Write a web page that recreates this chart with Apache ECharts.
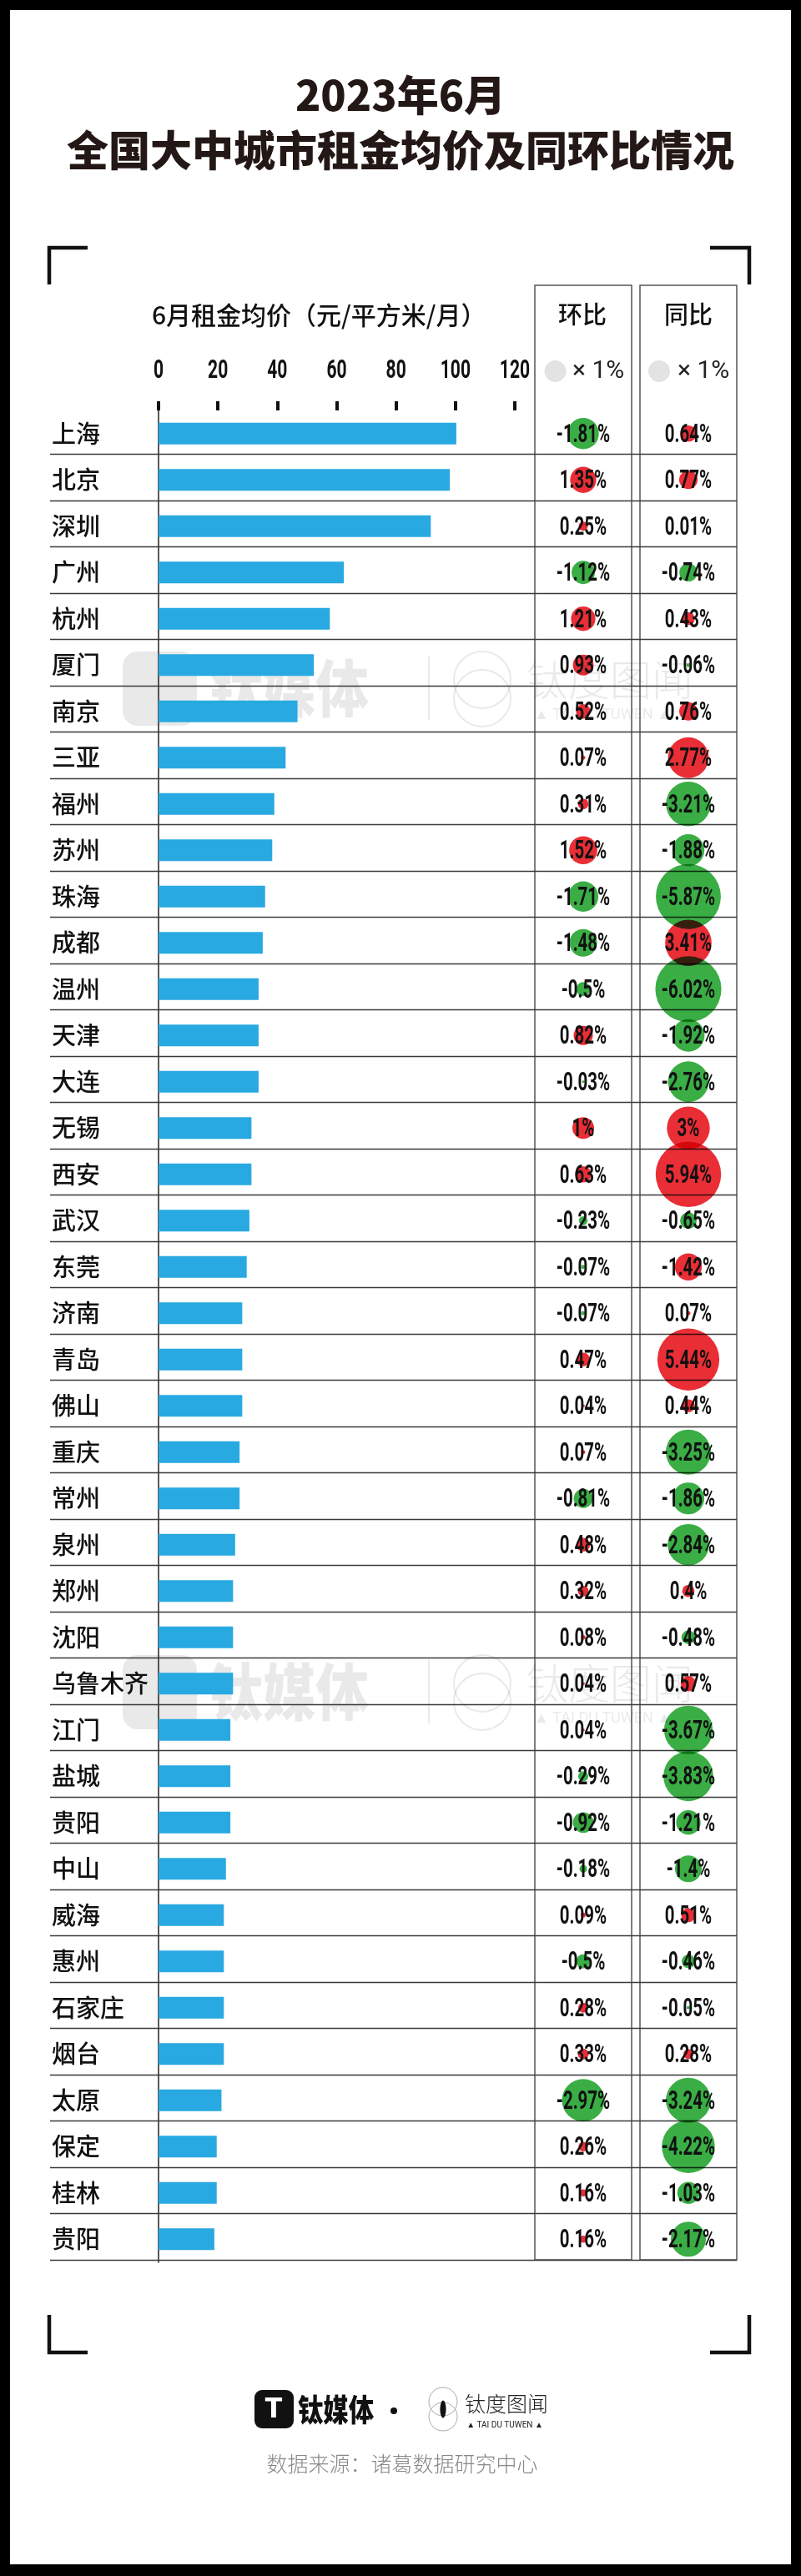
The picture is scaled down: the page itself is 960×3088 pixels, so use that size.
<!DOCTYPE html>
<html><head><meta charset="utf-8">
<script src="https://cdn.jsdelivr.net/npm/echarts@6/dist/echarts.min.js"></script>
<style>html,body{margin:0;padding:0;background:#000;}#c{width:960px;height:3088px;}</style>
</head><body><div id="c"></div>
<script>
const cities = ['上海','北京','深圳','广州','杭州','厦门','南京','三亚','福州','苏州','珠海','成都','温州','天津','大连','无锡','西安','武汉','东莞','济南','青岛','佛山','重庆','常州','泉州','郑州','沈阳','乌鲁木齐','江门','盐城','贵阳','中山','威海','惠州','石家庄','烟台','太原','保定','桂林','贵阳'];
const rent = [100.3,98.1,91.7,62.4,57.7,52.3,46.8,42.8,39.0,38.3,35.9,35.1,33.7,33.7,33.7,31.3,31.3,30.6,29.7,28.2,28.2,28.2,27.3,27.3,25.8,25.1,25.1,25.1,24.2,24.2,24.2,22.7,22.0,22.0,22.0,22.0,21.2,19.6,19.6,18.8];
const mom = [-1.81,1.35,0.25,-1.12,1.21,0.93,0.52,0.07,0.31,1.52,-1.71,-1.48,-0.5,0.82,-0.03,1,0.63,-0.23,-0.07,-0.07,0.47,0.04,0.07,-0.81,0.48,0.32,0.08,0.04,0.04,-0.29,-0.92,-0.18,0.09,-0.5,0.28,0.33,-2.97,0.26,0.16,0.16];
const yoy = [0.64,0.77,0.01,-0.74,0.43,-0.06,0.76,2.77,-3.21,-1.88,-5.87,3.41,-6.02,-1.92,-2.76,3,5.94,-0.65,-1.42,0.07,5.44,0.44,-3.25,-1.86,-2.84,0.4,-0.48,0.57,-3.67,-3.83,-1.21,-1.4,0.51,-0.46,-0.05,0.28,-3.24,-4.22,-1.03,-2.17];
const yoyRedCircle = ['东莞']; // circle drawn red in the original despite the negative label
const rentTickValues = [0,20,40,60,80,100,120];
const rentTickLabels = ['0','20','40','60','80','100','120'];

const RED = '#e8232b', GREEN = '#2fa83b';
const CJK = "'Noto Sans CJK SC', 'Noto Sans', sans-serif";
const NUM = "Roboto, 'Noto Sans', sans-serif";
const GTOP = 492, GH = 2220;

function sz(v){ return 26 * Math.pow(Math.abs(v), 0.62); }
function fmt(v){ return String(v) + '%'; }

const chart = echarts.init(document.getElementById('c'), null, {renderer:'canvas', width:960, height:3088});

function labelSeries(idx, arr){
  return {
    type:'custom', xAxisIndex: idx, yAxisIndex: idx, z: 6, silent: true,
    data: arr.map((v,i)=>[0,i,v]),
    encode:{x:0,y:1},
    renderItem:(params, api)=>{
      const p = api.coord([0, api.value(1)]);
      return {type:'text', x:p[0], y:p[1]+2, scaleX:0.66,
        style:{text: fmt(api.value(2)), fontSize:31, fontWeight:'bold', fontFamily:NUM, fill:'#111', align:'center', verticalAlign:'middle'}};
    }
  };
}
function bubbleSeries(idx, arr, redOverride){
  return {
    type:'scatter', xAxisIndex: idx, yAxisIndex: idx, z: 4, silent: true, blendMode:'multiply',
    data: arr.map((v,i)=>[0,i,v]),
    symbolSize:(d)=>sz(d[2]),
    itemStyle:{opacity:0.95, color:(p)=>{
      const v = p.data[2];
      if (redOverride && redOverride.indexOf(cities[p.data[1]])>=0) return RED;
      return v>=0?RED:GREEN;
    }}
  };
}

function wm(y){
  const c = 'rgba(0,0,0,0.085)';
  return {type:'group', z:50, silent:true, children:[
    {type:'rect', shape:{x:147,y:y-44,width:89,height:89,r:18}, style:{fill:c}},
    {type:'text', x:251, y:y, scaleX:0.86, style:{text:'钛媒体', fontSize:74, fontWeight:900, fontFamily:CJK, fill:c, verticalAlign:'middle'}},
    {type:'rect', shape:{x:513,y:y-38,width:2,height:76}, style:{fill:c}},
    {type:'circle', shape:{cx:578,cy:y-10,r:34}, style:{fill:'none', stroke:c, lineWidth:2}},
    {type:'circle', shape:{cx:578,cy:y+12,r:34}, style:{fill:'none', stroke:c, lineWidth:2}},
    {type:'text', x:631, y:y-10, style:{text:'钛度图闻', fontSize:50, fontWeight:300, fontFamily:CJK, fill:c, verticalAlign:'middle'}},
    {type:'text', x:640, y:y+32, style:{text:'▲ TAI DU TUWEN ▲', fontSize:18, fontFamily:NUM, fill:c, verticalAlign:'middle'}}
  ]};
}
function corner(pts){ return {type:'polyline', z:5, shape:{points:pts}, style:{stroke:'#111', lineWidth:4.5, fill:null}}; }

const option = {
  backgroundColor:'#000',
  animation:false,
  grid:[
    {left:190, top:GTOP, width:427, height:GH},
    {left:641, top:GTOP, width:116, height:GH},
    {left:767, top:GTOP, width:116, height:GH}
  ],
  xAxis:[
    {gridIndex:0, type:'value', position:'top', min:rentTickValues[0], max:rentTickValues[rentTickValues.length-1], interval:rentTickValues[1]-rentTickValues[0],
      axisLine:{show:false}, splitLine:{show:false},
      axisTick:{show:true, length:11, lineStyle:{color:'#111', width:4}},
      axisLabel:{show:false}},
    {gridIndex:1, type:'value', min:-1, max:1, show:false},
    {gridIndex:2, type:'value', min:-1, max:1, show:false}
  ],
  yAxis:[
    {gridIndex:0, type:'category', inverse:true, data:cities,
      axisLine:{show:true, lineStyle:{color:'#222', width:1.5}}, axisTick:{show:false}, splitLine:{show:false},
      axisLabel:{align:'left', margin:128, fontSize:29, fontWeight:500, color:'#111', fontFamily:CJK, verticalAlign:'middle'}},
    {gridIndex:1, type:'category', inverse:true, data:cities, show:false},
    {gridIndex:2, type:'category', inverse:true, data:cities, show:false}
  ],
  series:[
    {type:'custom', xAxisIndex:0, yAxisIndex:0, z:1, silent:true,
      data: cities.map((c,i)=>[0,i]), encode:{x:0,y:1},
      renderItem:(params, api)=>{
        const p = api.coord([0, api.value(1)]);
        const h = api.size([0,1])[1];
        const y = Math.round(p[1] + h/2 - 3.5) + 0.5;
        return {type:'line', shape:{x1:60,y1:y,x2:883,y2:y}, style:{stroke:'#3a3a3a', lineWidth:1.6}};
      }},
    // x-axis tick labels (condensed), positioned by the value scale
    {type:'custom', xAxisIndex:0, yAxisIndex:0, z:5, silent:true,
      data: rentTickValues.map((v,i)=>[v,0,i]), encode:{x:0,y:1},
      renderItem:(params, api)=>{
        const p = api.coord([api.value(0), 0]);
        const h = api.size([0,1])[1];
        return {type:'text', x:p[0], y:p[1] - h/2 - 47, scaleX:0.68,
          style:{text: rentTickLabels[api.value(2)], fontSize:31, fontWeight:'bold', fontFamily:NUM, fill:'#111', align:'center', verticalAlign:'middle'}};
      }},
    {type:'bar', xAxisIndex:0, yAxisIndex:0, z:2, data:rent, barWidth:26, itemStyle:{color:'#29a9e1'}, silent:true},
    bubbleSeries(1, mom, null),
    bubbleSeries(2, yoy, yoyRedCircle),
    labelSeries(1, mom),
    labelSeries(2, yoy)
  ],
  graphic:[
    {type:'rect', z:-10, shape:{x:12,y:12,width:936,height:3062}, style:{fill:'#fff'}},
    {type:'text', z:5, x:480, y:114, style:{text:'2023年6月', fontSize:50, fontWeight:900, fontFamily:CJK, fill:'#231815', align:'center', verticalAlign:'middle'}},
    {type:'text', z:5, x:480, y:180, style:{text:'全国大中城市租金均价及同环比情况', fontSize:50, fontWeight:900, fontFamily:CJK, fill:'#231815', align:'center', verticalAlign:'middle'}},
    corner([[105,297],[59,297],[59,341]]),
    corner([[851,297],[898,297],[898,341]]),
    corner([[59,2775],[59,2820],[105,2820]]),
    corner([[898,2775],[898,2820],[851,2820]]),
    {type:'rect', z:0, shape:{x:641,y:342,width:116,height:2367}, style:{fill:'none', stroke:'#555', lineWidth:1.5}},
    {type:'rect', z:0, shape:{x:767,y:342,width:116,height:2367}, style:{fill:'none', stroke:'#555', lineWidth:1.5}},
    {type:'text', z:5, x:182, y:378, style:{text:'6月租金均价（元/平方米/月）', fontSize:30, fontWeight:500, fontFamily:CJK, fill:'#111', verticalAlign:'middle'}},
    {type:'text', z:5, x:698, y:377, style:{text:'环比', fontSize:29, fontWeight:500, fontFamily:CJK, fill:'#111', align:'center', verticalAlign:'middle'}},
    {type:'text', z:5, x:825, y:377, style:{text:'同比', fontSize:29, fontWeight:500, fontFamily:CJK, fill:'#111', align:'center', verticalAlign:'middle'}},
    {type:'circle', z:5, shape:{cx:665.5,cy:445,r:13}, style:{fill:'#e3e3e3'}},
    {type:'text', z:5, x:686, y:445, style:{text:'× 1%', fontSize:30, fontWeight:400, fontFamily:NUM, fill:'#222', verticalAlign:'middle'}},
    {type:'circle', z:5, shape:{cx:790,cy:445,r:13}, style:{fill:'#e3e3e3'}},
    {type:'text', z:5, x:812, y:445, style:{text:'× 1%', fontSize:30, fontWeight:400, fontFamily:NUM, fill:'#222', verticalAlign:'middle'}},
    wm(825), wm(2028),
    // bottom logos
    {type:'rect', z:5, shape:{x:305,y:2865,width:47,height:46,r:9}, style:{fill:'#111'}},
    {type:'text', z:6, x:328, y:2889, style:{text:'T', fontSize:34, fontWeight:900, fontFamily:NUM, fill:'#fff', align:'center', verticalAlign:'middle'}},
    {type:'text', z:5, x:357, y:2889, scaleX:0.82, style:{text:'钛媒体', fontSize:37, fontWeight:900, fontFamily:CJK, fill:'#111', verticalAlign:'middle'}},
    {type:'circle', z:5, shape:{cx:472,cy:2890,r:4}, style:{fill:'#111'}},
    {type:'circle', z:5, shape:{cx:531,cy:2879,r:17}, style:{fill:'none', stroke:'#aaa', lineWidth:1}},
    {type:'circle', z:5, shape:{cx:531,cy:2897,r:17}, style:{fill:'none', stroke:'#aaa', lineWidth:1}},
    {type:'circle', z:5, x:531, y:2888, scaleX:0.45, scaleY:1.3, shape:{cx:0,cy:0,r:8}, style:{fill:'#111'}},
    {type:'text', z:5, x:557, y:2881, style:{text:'钛度图闻', fontSize:25, fontWeight:300, fontFamily:CJK, fill:'#222', verticalAlign:'middle'}},
    {type:'text', z:5, x:605, y:2907, style:{text:'▲ TAI DU TUWEN ▲', fontSize:10, fontFamily:NUM, fill:'#222', align:'center', verticalAlign:'middle'}},
    {type:'text', z:5, x:482, y:2953, style:{text:'数据来源：诸葛数据研究中心', fontSize:25, fontWeight:300, fontFamily:CJK, fill:'#888', align:'center', verticalAlign:'middle'}}
  ]
};
chart.setOption(option);
</script></body></html>
